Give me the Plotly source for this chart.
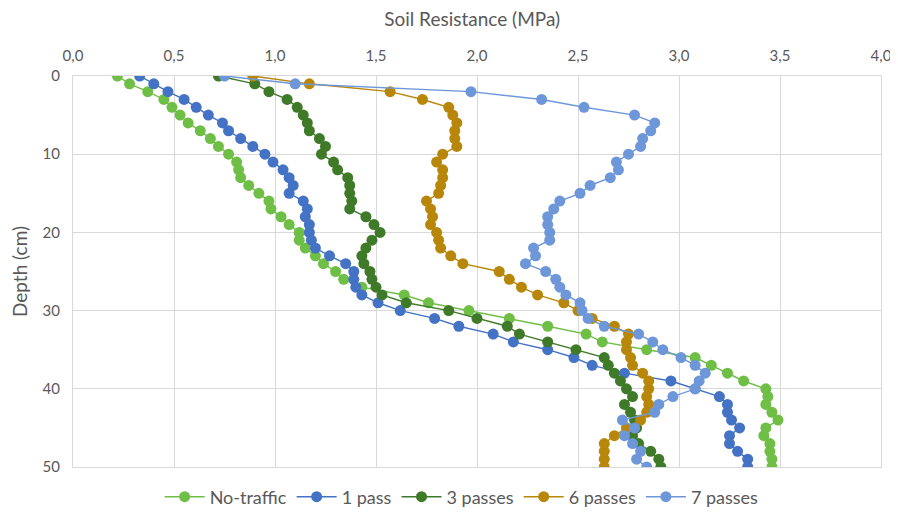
import plotly.graph_objects as go

depth = list(range(51))

no_traffic = [0.22,0.28,0.37,0.45,0.49,0.53,0.57,0.63,0.68,0.72,
              0.77,0.81,0.82,0.83,0.87,0.92,0.97,0.98,1.03,1.07,
              1.12,1.12,1.15,1.20,1.24,1.30,1.34,1.43,1.64,1.76,
              1.96,2.16,2.35,2.54,2.62,2.84,3.08,3.16,3.24,3.32,
              3.43,3.44,3.43,3.46,3.49,3.43,3.42,3.45,3.45,3.46,3.46]
one_pass = [0.33,0.40,0.47,0.55,0.61,0.67,0.74,0.77,0.83,0.89,
            0.95,0.99,1.04,1.07,1.09,1.07,1.14,1.16,1.15,1.17,
            1.17,1.18,1.20,1.27,1.35,1.39,1.39,1.40,1.43,1.51,
            1.62,1.79,1.91,2.08,2.18,2.35,2.48,2.57,2.73,2.96,
            3.08,3.20,3.24,3.24,3.26,3.30,3.25,3.25,3.29,3.34,3.34]
three_passes = [0.72,0.90,0.97,1.06,1.11,1.14,1.16,1.17,1.22,1.25,
                1.23,1.29,1.31,1.36,1.37,1.37,1.38,1.37,1.45,1.49,
                1.52,1.48,1.45,1.43,1.44,1.47,1.48,1.50,1.53,1.65,
                1.86,2.00,2.15,2.21,2.35,2.49,2.63,2.65,2.68,2.71,
                2.74,2.77,2.73,2.76,2.78,2.79,2.77,2.80,2.86,2.90,2.91]
six_passes = [0.89,1.17,1.57,1.73,1.86,1.88,1.90,1.89,1.89,1.90,
              1.83,1.80,1.83,1.83,1.82,1.81,1.75,1.77,1.78,1.77,
              1.80,1.81,1.82,1.87,1.93,2.11,2.16,2.22,2.30,2.43,
              2.50,2.57,2.68,2.75,2.74,2.74,2.76,2.77,2.82,2.85,
              2.85,2.84,2.85,2.84,2.81,2.74,2.68,2.63,2.63,2.63,2.63]
seven_passes = [0.75,1.10,1.97,2.32,2.53,2.78,2.88,2.86,2.82,2.81,
                2.75,2.69,2.70,2.66,2.56,2.51,2.41,2.38,2.35,2.35,
                2.36,2.36,2.28,2.29,2.24,2.34,2.39,2.41,2.44,2.51,
                2.52,2.55,2.63,2.80,2.87,2.92,3.01,3.08,3.13,3.10,
                3.08,2.97,2.90,2.88,2.72,2.78,2.73,2.77,2.81,2.79,2.84]

series_names = ["No-traffic", "1 pass", "3 passes", "6 passes", "7 passes"]
series_values = [no_traffic, one_pass, three_passes, six_passes, seven_passes]
colors = ["#6FBE46", "#4472C4", "#3F7A29", "#B8870A", "#6E97DA"]

x_ticks = [0, 0.5, 1.0, 1.5, 2.0, 2.5, 3.0, 3.5, 4.0]
y_ticks = [0, 10, 20, 30, 40, 50]

fig = go.Figure()
for name, vals, col in zip(series_names, series_values, colors):
    fig.add_trace(go.Scatter(
        x=vals, y=depth, name=name, mode="lines+markers",
        line=dict(color=col, width=1.4),
        marker=dict(color=col, size=11),
    ))

# page is drawn with an 8px body offset, so the figure is sized to fit the window
W, H = 890, 504
font_family = "Lato, Open Sans, sans-serif"
fig.update_layout(
    width=W, height=H,
    margin=dict(l=65, r=17, t=68, b=45),
    paper_bgcolor="white", plot_bgcolor="white",
    separators=",.",
    font=dict(family=font_family, color="#595959", size=15),
    title=dict(text="Soil Resistance (MPa)", x=0.494, xref="paper", xanchor="center",
               y=1 - 11 / H, yanchor="middle", yref="container",
               font=dict(size=19, color="#595959", family=font_family)),
    xaxis=dict(side="top", range=[0, 4], tickvals=x_ticks, tickformat=".1f",
               showgrid=True, gridcolor="#D9D9D9", gridwidth=1,
               showline=True, linecolor="#D9D9D9", mirror=True,
               zeroline=False, ticks="", ticklabelstandoff=8,
               automargin=False,
               tickfont=dict(size=15, color="#595959")),
    yaxis=dict(range=[50, 0], tickvals=y_ticks,
               showgrid=True, gridcolor="#D9D9D9", gridwidth=1,
               showline=True, linecolor="#D9D9D9", mirror=True,
               zeroline=False, ticks="", ticklabelstandoff=9,
               automargin=False,
               title=dict(text="Depth (cm)", standoff=15,
                          font=dict(size=19, color="#595959")),
               tickfont=dict(size=15, color="#595959")),
    legend=dict(orientation="h", x=0.481, xanchor="center",
                y=15 / H, yanchor="middle", yref="container",
                font=dict(size=18, color="#595959"),
                itemwidth=40, tracegroupgap=0),
    showlegend=True,
)

fig.write_html("out.html")
